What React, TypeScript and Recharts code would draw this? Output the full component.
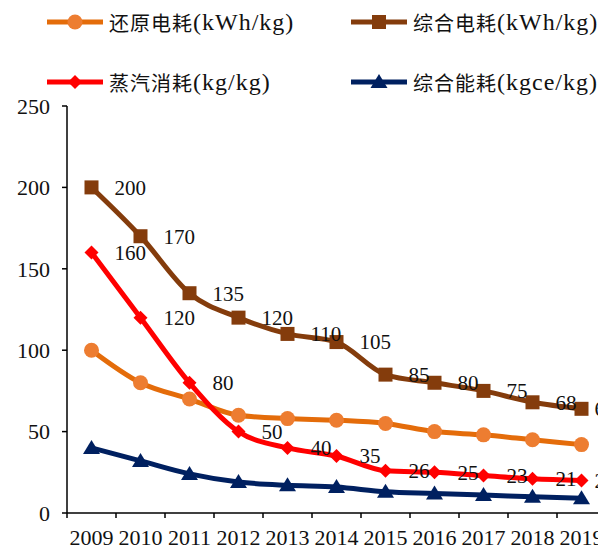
import React from "react";
import { LineChart, Line, XAxis, YAxis, LabelList } from "recharts";

const years = ["2009", "2010", "2011", "2012", "2013", "2014", "2015", "2016", "2017", "2018", "2019"];
const reductionPower = [100, 80, 70, 60, 58, 57, 55, 50, 48, 45, 42];
const totalPower = [200, 170, 135, 120, 110, 105, 85, 80, 75, 68, 64];
const steamUse = [160, 120, 80, 50, 40, 35, 26, 25, 23, 21, 20];
const totalEnergy = [40, 32, 24, 19, 17, 16, 13, 12, 11, 10, 9];
const yTicks = [0, 50, 100, 150, 200, 250];

type Shape = "circle" | "square" | "diamond" | "triangle";

const series = [
  { key: "reduction", name: "还原电耗", unit: "(kWh/kg)", color: "#E46C0A", fill: "#ED7D31", shape: "circle" as Shape, labels: false },
  { key: "total", name: "综合电耗", unit: "(kWh/kg)", color: "#843C0C", fill: "#843C0C", shape: "square" as Shape, labels: true },
  { key: "steam", name: "蒸汽消耗", unit: "(kg/kg)", color: "#FF0000", fill: "#FF0000", shape: "diamond" as Shape, labels: true },
  { key: "energy", name: "综合能耗", unit: "(kgce/kg)", color: "#002060", fill: "#002060", shape: "triangle" as Shape, labels: false },
];

const data = years.map((year, i) => ({
  year,
  reduction: reductionPower[i],
  total: totalPower[i],
  steam: steamUse[i],
  energy: totalEnergy[i],
}));

const SERIF = "'Liberation Serif', 'Noto Sans CJK SC', serif";

function Marker({ cx, cy, shape, fill }: { cx: number; cy: number; shape: Shape; fill: string }) {
  if (shape === "circle") return <circle cx={cx} cy={cy} r={7.5} fill={fill} />;
  if (shape === "square") return <rect x={cx - 7} y={cy - 7} width={14} height={14} fill={fill} />;
  if (shape === "diamond")
    return <polygon points={`${cx},${cy - 7} ${cx + 7},${cy} ${cx},${cy + 7} ${cx - 7},${cy}`} fill={fill} />;
  return <polygon points={`${cx},${cy - 8} ${cx + 8.5},${cy + 6} ${cx - 8.5},${cy + 6}`} fill={fill} />;
}

// category boundary tick + centred year label
function XTick(props: any) {
  const { x, y, payload } = props;
  return (
    <g>
      <line x1={x - 24.5} x2={x - 24.5} y1={y - 5} y2={y} stroke="#000" strokeWidth={1.5} />
      <text x={x} y={y + 27} textAnchor="middle" fontSize={22} fontFamily={SERIF} fill="#111">
        {payload.value}
      </text>
    </g>
  );
}

function ValueLabel(props: any) {
  const { x, y, value, index } = props;
  const dx = index === years.length - 1 ? 13 : 23;
  return (
    <text x={x + dx} y={y} dy="0.35em" fontSize={21} fontFamily={SERIF} fill="#111">
      {value}
    </text>
  );
}

function LegendItem({ s, left, top }: { s: (typeof series)[number]; left: number; top: number }) {
  return (
    <div style={{ position: "absolute", left, top, display: "flex", alignItems: "center", height: 24, whiteSpace: "nowrap" }}>
      <svg width={56} height={20} style={{ marginRight: 6 }}>
        <line x1={0} x2={56} y1={10} y2={10} stroke={s.color} strokeWidth={5} strokeLinecap="round" />
        <Marker cx={28} cy={10} shape={s.shape} fill={s.fill} />
      </svg>
      <span style={{ fontFamily: "'Noto Sans CJK SC', sans-serif", fontSize: 20, letterSpacing: 1, color: "#111" }}>{s.name}</span>
      <span style={{ fontFamily: SERIF, fontSize: 24, letterSpacing: 1, color: "#111" }}>{s.unit}</span>
    </div>
  );
}

export default function App() {
  return (
    <div style={{ position: "absolute", left: 0, top: 0, width: 598, height: 550, overflow: "hidden", background: "#fff" }}>
      <LegendItem s={series[0]} left={47} top={10} />
      <LegendItem s={series[1]} left={351} top={10} />
      <LegendItem s={series[2]} left={47} top={70} />
      <LegendItem s={series[3]} left={351} top={70} />
      <div style={{ position: "absolute", left: 0, top: 0 }}>
        <LineChart width={620} height={550} data={data} margin={{ top: 106, right: 14, bottom: 7, left: 0 }}>
          <XAxis
            dataKey="year"
            height={30}
            padding={{ left: 24.5, right: 24.5 }}
            tickSize={5}
            tickMargin={0}
            tickLine={false}
            axisLine={{ stroke: "#000", strokeWidth: 1.5 }}
            tick={<XTick />}
            interval={0}
          />
          <YAxis
            width={67}
            domain={[0, 250]}
            ticks={yTicks}
            tickSize={5}
            tickMargin={12}
            axisLine={{ stroke: "#000", strokeWidth: 1.5 }}
            tickLine={{ stroke: "#000", strokeWidth: 1.5 }}
            tick={{ fontSize: 22, fontFamily: SERIF, fill: "#111" }}
          />
          {series.map((s) => (
            <Line
              key={s.key}
              dataKey={s.key}
              name={s.name}
              type="monotone"
              stroke={s.color}
              strokeWidth={5}
              isAnimationActive={false}
              dot={(p: any) => <Marker key={`${s.key}-${p.index}`} cx={p.cx} cy={p.cy} shape={s.shape} fill={s.fill} />}
              activeDot={false}
            >
              {s.labels && <LabelList dataKey={s.key} content={<ValueLabel />} />}
            </Line>
          ))}
        </LineChart>
      </div>
    </div>
  );
}
